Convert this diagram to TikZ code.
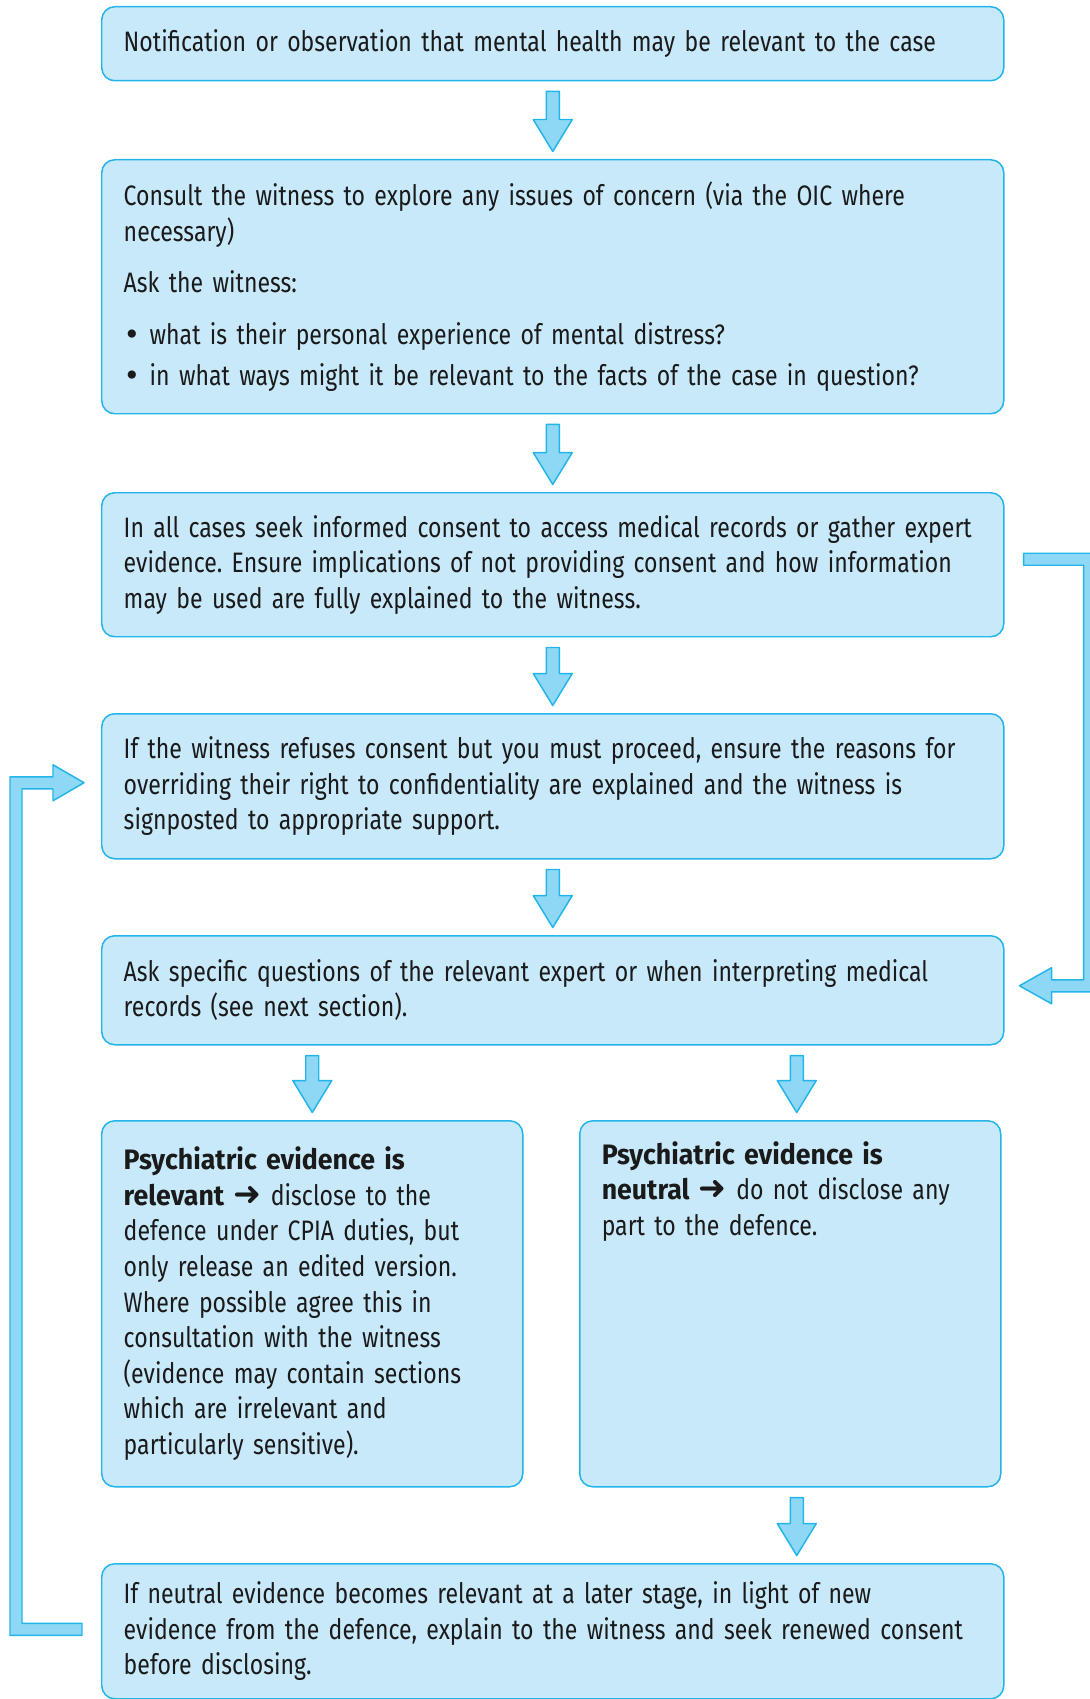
\documentclass[tikz,border=0pt]{standalone}
\usepackage{fontspec}
\setmainfont{Fira Sans}[UprightFeatures={FakeStretch=0.82}, BoldFeatures={FakeStretch=0.95}]
\newfontfamily\symfont{DejaVu Sans}
\usepackage{tikz}
\usetikzlibrary{calc}
\definecolor{boxfill}{RGB}{199, 233, 249}
\definecolor{boxline}{RGB}{35, 181, 234}
\definecolor{arrowfill}{RGB}{142, 216, 245}
\definecolor{textdark}{RGB}{26, 26, 26}
\tikzstyle{flowbox}=[shape=rectangle, anchor=north west, draw=boxline, fill=boxfill, line width=0.85pt, rounded corners=0.26cm, align=left, inner xsep=0.44cm, inner ysep=0.3cm, text=textdark, font=\fontsize{16}{20.26}\selectfont\frenchspacing]
\tikzstyle{widebox}=[flowbox, text width=17.16cm]
\tikzstyle{halfbox}=[flowbox, text width=7.54cm, minimum height=7.32cm]
\tikzstyle{blockarrow}=[draw=boxline, fill=arrowfill, line width=0.85pt, line join=round]
\newcommand{\thenarrow}{{\symfont\fontsize{19}{20}\selectfont ➜}}

% block arrow pointing down, from #1 to #2 (same x)
\newcommand{\blockdown}[2]{%
  \draw[blockarrow] ($(#1)+(-0.13,-0.2)$) -- ($(#2)+(-0.13,0.79)$)
    -- ($(#2)+(-0.39,0.79)$) -- ($(#2)+(0,0.15)$) -- ($(#2)+(0.39,0.79)$)
    -- ($(#2)+(0.13,0.79)$) -- ($(#1)+(0.13,-0.2)$) -- cycle;}

\begin{document}
\begin{tikzpicture}
    \useasboundingbox (0,0) rectangle (21.78,-33.98);

    % Main steps
    \node[widebox, minimum height=1.48cm] (b1) at (2.02,-0.12) {Notification or observation that mental health may be relevant to the case};
    \node[widebox, minimum height=5.08cm] (b2) at (2.02,-3.18) {Consult the witness to explore any issues of concern (via the OIC where\\ necessary)\\[9pt] Ask the witness:\\[9pt] {\symfont •} what is their personal experience of mental distress?\\[3pt] {\symfont •} in what ways might it be relevant to the facts of the case in question?};
    \node[widebox, minimum height=2.88cm] (b3) at (2.02,-9.84) {In all cases seek informed consent to access medical records or gather expert\\ evidence. Ensure implications of not providing consent and how information\\ may be used are fully explained to the witness.};
    \node[widebox, minimum height=2.9cm] (b4) at (2.02,-14.26) {If the witness refuses consent but you must proceed, ensure the reasons for\\ overriding their right to confidentiality are explained and the witness is\\ signposted to appropriate support.};
    \node[widebox, minimum height=2.18cm] (b5) at (2.02,-18.7) {Ask specific questions of the relevant expert or when interpreting medical\\ records (see next section).};

    % Outcomes
    \node[halfbox] (b6a) at (2.02,-22.4) {{\bfseries Psychiatric evidence is}\\ {\bfseries relevant \thenarrow} disclose to the\\ defence under CPIA duties, but\\ only release an edited version.\\ Where possible agree this in\\ consultation with the witness\\ (evidence may contain sections\\ which are irrelevant and\\ particularly sensitive).};
    \node[halfbox, text height=0.57cm, text depth=6.15cm] (b6b) at (11.58,-22.4) {{\bfseries Psychiatric evidence is}\\ {\bfseries neutral \thenarrow} do not disclose any\\ part to the defence.};

    \node[widebox, minimum height=2.7cm] (b7) at (2.02,-31.26) {If neutral evidence becomes relevant at a later stage, in light of new\\ evidence from the defence, explain to the witness and seek renewed consent\\ before disclosing.};

    % Down arrows
    \coordinate (c6b) at ($(b6b.north)+(0.13,0)$);
    \blockdown{b1.south}{b2.north}
    \blockdown{b2.south}{b3.north}
    \blockdown{b3.south}{b4.north}
    \blockdown{b4.south}{b5.north}
    \blockdown{b5.south -| b6a.north}{b6a.north}
    \blockdown{b5.south -| c6b}{c6b}
    \blockdown{b6b.south -| c6b}{b7.north -| c6b}

    % Consent given: skip to questions
    \coordinate (rtop) at ($(b3.east)+(0.38,0.11)$);
    \coordinate (rtip) at ($(b5.east)+(0.3,0.09)$);
    \coordinate (rbend) at ($(b3.east)+(1.7,0)$);
    \draw[blockarrow] ($(rtop)+(0,0.12)$) -- ($(rbend |- rtop)+(0.12,0.12)$)
        -- ($(rbend |- rtip)+(0.12,-0.12)$) -- ($(rtip)+(0.64,-0.12)$)
        -- ($(rtip)+(0.64,-0.36)$) -- (rtip) -- ($(rtip)+(0.64,0.36)$)
        -- ($(rtip)+(0.64,0.12)$) -- ($(rbend |- rtip)+(-0.12,0.12)$)
        -- ($(rbend |- rtop)+(-0.12,-0.12)$) -- ($(rtop)+(0,-0.12)$) -- cycle;

    % Neutral becomes relevant: back to consent
    \coordinate (lstart) at ($(b7.west)+(-0.38,0.04)$);
    \coordinate (ltip) at ($(b4.west)+(-0.34,0.07)$);
    \coordinate (lbend) at ($(b4.west)+(-1.7,0)$);
    \draw[blockarrow] ($(lstart)+(0,-0.12)$) -- ($(lbend |- lstart)+(-0.12,-0.12)$)
        -- ($(lbend |- ltip)+(-0.12,0.12)$) -- ($(ltip)+(-0.62,0.12)$)
        -- ($(ltip)+(-0.62,0.36)$) -- (ltip) -- ($(ltip)+(-0.62,-0.36)$)
        -- ($(ltip)+(-0.62,-0.12)$) -- ($(lbend |- ltip)+(0.12,-0.12)$)
        -- ($(lbend |- lstart)+(0.12,0.12)$) -- ($(lstart)+(0,0.12)$) -- cycle;

\end{tikzpicture}
\end{document}
